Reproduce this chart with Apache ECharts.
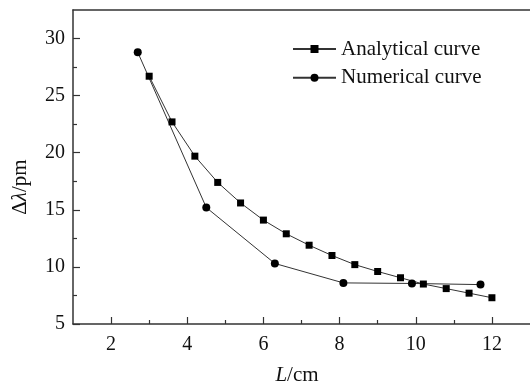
<!DOCTYPE html>
<html><head><meta charset="utf-8">
<script src="https://cdn.jsdelivr.net/npm/echarts@6/dist/echarts.min.js"></script>
<style>html,body{margin:0;padding:0;background:#fff}#c{width:530px;height:384px}</style>
</head><body><div id="c"></div>
<script>
var analyticalX = [3.0, 3.6, 4.2, 4.8, 5.4, 6.0, 6.6, 7.2, 7.8, 8.4, 9.0, 9.6, 10.2, 10.8, 11.4, 12.0];
var analyticalY = [26.7, 22.7, 19.7, 17.4, 15.6, 14.1, 12.9, 11.9, 11.0, 10.2, 9.6, 9.05, 8.5, 8.1, 7.7, 7.3];
var numericalX = [2.7, 4.5, 6.3, 8.1, 9.9, 11.7];
var numericalY = [28.8, 15.2, 10.3, 8.6, 8.55, 8.45];
var xTicks = [2, 4, 6, 8, 10, 12];
var xMinorTicks = [3, 5, 7, 9, 11];
var yTicks = [5, 10, 15, 20, 25, 30];
var yMinorTicks = [7.5, 12.5, 17.5, 22.5, 27.5];
var seriesNames = ['Analytical curve', 'Numerical curve'];
var xTitle = '{i|L}/cm';
var yTitle = 'Δ{i|λ}/pm';

function pairs(xs, ys) { return xs.map(function (x, i) { return [x, ys[i]]; }); }

var FONT = 'Liberation Serif';
var AX = '#333';
var TXT = '#111';
var X_MIN = 1, X_MAX = 13, Y_MIN = 5, Y_MAX = 32.5;
var gridPos = { left: 73, top: 10, bottom: 60, right: 0, outerBoundsMode: 'none' };
var titleStyle = function (t) {
  return { text: t, fontFamily: FONT, fontSize: 21, fill: TXT, align: 'center', verticalAlign: 'middle',
    rich: { i: { fontStyle: 'italic', fontFamily: FONT, fontSize: 21, fill: TXT } } };
};
var chart = echarts.init(document.getElementById('c'));
chart.setOption({
  backgroundColor: '#fff',
  animation: false,
  grid: [Object.assign({}, gridPos), Object.assign({}, gridPos)],
  legend: {
    orient: 'vertical', left: 287, top: 33,
    itemWidth: 43, itemHeight: 10, itemGap: 6.7,
    textStyle: { fontFamily: FONT, fontSize: 21, color: TXT, lineHeight: 22 },
    data: seriesNames
  },
  xAxis: [{
    type: 'value', min: X_MIN, max: X_MAX,
    axisLine: { show: true, lineStyle: { color: AX, width: 1.5 } },
    axisTick: { show: true, inside: true, length: 7, customValues: xTicks, lineStyle: { color: AX, width: 1.2 } },
    axisLabel: { show: false },
    splitLine: { show: false }
  }, {
    gridIndex: 1, type: 'value', min: X_MIN, max: X_MAX, position: 'bottom',
    axisLine: { show: false },
    axisTick: { show: true, inside: true, length: 4, customValues: xMinorTicks, lineStyle: { color: AX, width: 1.2 } },
    axisLabel: { show: false },
    splitLine: { show: false }
  }, {
    gridIndex: 1, type: 'value', min: X_MIN, max: X_MAX, position: 'top',
    axisLine: { show: true, lineStyle: { color: AX, width: 1.5 } },
    axisTick: { show: false },
    axisLabel: { show: false },
    splitLine: { show: false }
  }],
  yAxis: [{
    type: 'value', min: Y_MIN, max: Y_MAX,
    axisLine: { show: true, lineStyle: { color: AX, width: 1.5 } },
    axisTick: { show: true, inside: true, length: 7, customValues: yTicks, lineStyle: { color: AX, width: 1.2 } },
    axisLabel: { show: false },
    splitLine: { show: false }
  }, {
    gridIndex: 1, type: 'value', min: Y_MIN, max: Y_MAX, position: 'left',
    axisLine: { show: false },
    axisTick: { show: true, inside: true, length: 4, customValues: yMinorTicks, lineStyle: { color: AX, width: 1.2 } },
    axisLabel: { show: false },
    splitLine: { show: false }
  }],
  series: [{
    name: seriesNames[0], type: 'line', xAxisIndex: 0, yAxisIndex: 0,
    data: pairs(analyticalX, analyticalY),
    symbol: 'rect', symbolSize: 7, showAllSymbol: true,
    lineStyle: { color: '#333', width: 1 },
    itemStyle: { color: '#000' }
  }, {
    name: seriesNames[1], type: 'line', xAxisIndex: 0, yAxisIndex: 0,
    data: pairs(numericalX, numericalY),
    symbol: 'circle', symbolSize: 8, showAllSymbol: true,
    lineStyle: { color: '#333', width: 1 },
    itemStyle: { color: '#000' }
  }]
});

// Tick labels placed through the chart's own axis scales (convertToPixel)
var labelGraphics = [
  { type: 'text', id: 'xTitle', x: 297, y: 375, style: titleStyle(xTitle) },
  { type: 'text', id: 'yTitle', x: 20, y: 187, rotation: Math.PI / 2, style: titleStyle(yTitle) }
];
var finder = { xAxisIndex: 0, yAxisIndex: 0 };
xTicks.forEach(function (v, i) {
  var p = chart.convertToPixel(finder, [v, Y_MIN]);
  labelGraphics.push({ type: 'text', id: 'xl' + i, x: p[0], y: p[1] + 11,
    style: { text: String(v), fontFamily: FONT, fontSize: 20, fill: TXT, align: 'center', verticalAlign: 'top' } });
});
yTicks.forEach(function (v, i) {
  var p = chart.convertToPixel(finder, [X_MIN, v]);
  labelGraphics.push({ type: 'text', id: 'yl' + i, x: p[0] - 8, y: p[1],
    style: { text: String(v), fontFamily: FONT, fontSize: 20, fill: TXT, align: 'right', verticalAlign: 'middle' } });
});
chart.setOption({ graphic: labelGraphics });
</script>
</body></html>
